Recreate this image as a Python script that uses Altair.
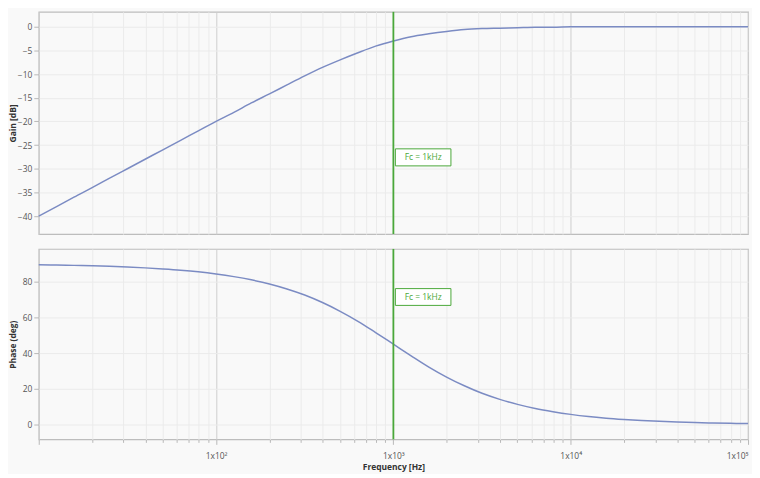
import altair as alt
import pandas as pd

# Frequency sample points [Hz]
freq = [10, 12.6, 15.8, 20, 25.1, 31.6, 39.8, 50.1, 63.1, 79.4,
        100, 126, 158, 200, 251, 316, 398, 501, 631, 794,
        1000, 1259, 1585, 1995, 2512, 3162, 3981, 5012, 6310, 7943,
        10000, 12589, 15849, 19953, 25119, 31623, 39811, 50119, 63096, 79433,
        100000]

# Gain [dB]
gain = [-40.0, -38.0, -36.0, -34.0, -32.0, -30.0, -28.0, -26.0, -24.0, -22.0,
        -20.0, -18.1, -16.1, -14.2, -12.3, -10.4, -8.6, -7.0, -5.5, -4.1,
        -3.0, -2.1, -1.5, -1.0, -0.6, -0.4, -0.3, -0.2, -0.1, -0.1,
        0.0, 0.0, 0.0, 0.0, 0.0, 0.0, 0.0, 0.0, 0.0, 0.0,
        0.0]

# Phase [deg]
phase = [89.4, 89.3, 89.1, 88.9, 88.6, 88.2, 87.7, 87.1, 86.4, 85.5,
         84.3, 82.8, 81.0, 78.7, 75.9, 72.5, 68.3, 63.4, 57.8, 51.5,
         45.0, 38.5, 32.2, 26.6, 21.7, 17.5, 14.1, 11.3, 9.0, 7.2,
         5.7, 4.5, 3.6, 2.9, 2.3, 1.8, 1.4, 1.1, 0.9, 0.7,
         0.6]

fc = 1000
fc_label = "Fc = 1kHz"
# label box extents (top, bottom, text centre) in data units of each panel
gain_box = [-25.8, -29.4, -27.6]
phase_box = [76.1, 66.7, 71.4]
gain_ticks = [0, -5, -10, -15, -20, -25, -30, -35, -40]
phase_ticks = [0, 20, 40, 60, 80]
decades = [10, 100, 1000, 10000, 100000]
x_ticks = [m * d for d in decades[:-1] for m in range(1, 10)] + [decades[-1]]

df = pd.DataFrame({"freq": freq, "gain": gain, "phase": phase})

FONT = "Open Sans"
LINE = "#7b8bc3"
GREEN = "#4aa83a"
GRID_MINOR = "#ebebeb"
GRID_MAJOR = "#cdcdcd"

major_test = "datum.value == 10 || datum.value == 100 || datum.value == 1000 || datum.value == 10000 || datum.value == 100000"
label_expr = ("datum.value == 100 ? '1x10\u00b2' : datum.value == 1000 ? '1x10\u00b3' : "
              "datum.value == 10000 ? '1x10\u2074' : datum.value == 100000 ? '1x10\u2075' : ''")

xscale = alt.Scale(type="log", domain=[10, 100000], nice=False)

ax_top = alt.Axis(
    values=x_ticks, labels=False, ticks=False, domain=False, title=None,
    grid=True, gridColor={"condition": {"test": major_test, "value": GRID_MAJOR}, "value": GRID_MINOR},
    minExtent=0, maxExtent=0)

ax_bot = alt.Axis(
    values=x_ticks, labelExpr=label_expr, labelFlush=True, labelPadding=7,
    labelFontSize=8.5, labelColor="#555555", labelFont=FONT, labelOverlap=False,
    tickSize={"condition": {"test": major_test, "value": 5}, "value": 3},
    tickColor="#b8b8b8", domain=False,
    title="Frequency [Hz]", titleFontSize=8.5, titleFont=FONT, titleFontWeight="bold",
    titleColor="#333333", titlePadding=3,
    grid=True, gridColor={"condition": {"test": major_test, "value": GRID_MAJOR}, "value": GRID_MINOR})

def yaxis(title, values):
    return alt.Axis(values=values, title=title, titleFont=FONT, titleFontSize=8.5,
                    titleFontWeight="bold", titleColor="#333333", titlePadding=1,
                    labelFont=FONT, labelFontSize=8.5, labelColor="#555555", labelPadding=2,
                    labelOverlap=False,
                    tickSize=5, tickColor="#b8b8b8", domain=False,
                    grid=True, gridColor=GRID_MINOR, minExtent=20, maxExtent=20)

def panel(ycol, ydomain, title, ticks, box, xaxis, height):
    yscale = alt.Scale(domain=ydomain, nice=False, zero=False)
    yax = yaxis(title, ticks)
    mk = pd.DataFrame({"freq": [fc], "label": [fc_label],
                       ycol: [box[0]], "ybot": [box[1]], "ytxt": [box[2]]})
    x = alt.X("freq:Q", scale=xscale, axis=xaxis, title=None if xaxis is ax_top else "Frequency [Hz]")
    line = alt.Chart(df).mark_line(color=LINE, strokeWidth=1.5, interpolate="monotone").encode(
        x=x, y=alt.Y(f"{ycol}:Q", scale=yscale, axis=yax, title=title))
    rule = alt.Chart(mk).mark_rule(color=GREEN, strokeWidth=1.8).encode(x=x)
    rect = alt.Chart(mk).mark_rect(fill="white", stroke=GREEN, strokeWidth=1,
                                   xOffset=2, x2Offset=58).encode(
        x=x, x2="freq:Q",
        y=alt.Y(f"{ycol}:Q", scale=yscale, axis=yax, title=title), y2="ybot:Q")
    txt = alt.Chart(mk).mark_text(color=GREEN, font=FONT, fontSize=8.5, xOffset=30,
                                  align="center", baseline="middle").encode(
        x=x, y=alt.Y("ytxt:Q", scale=yscale, axis=yax, title=title), text="label:N")
    return alt.layer(line, rule, rect, txt).properties(width=715, height=height)

top = panel("gain", [-43.8, 3.14], "Gain [dB]", gain_ticks, gain_box, ax_top, 224)
bottom = panel("phase", [-8.3, 98.3], "Phase (deg)", phase_ticks, phase_box, ax_bot, 192)

chart = alt.vconcat(top, bottom, spacing=11).properties(
    padding={"left": 0, "top": 0, "right": 0, "bottom": 0},
    background="#f9f9f9"
).configure_view(stroke="#bdbdbd", strokeWidth=1.2, fill="#f9f9f9")

chart.save("out.html", embed_options={"renderer": "svg", "actions": False})
